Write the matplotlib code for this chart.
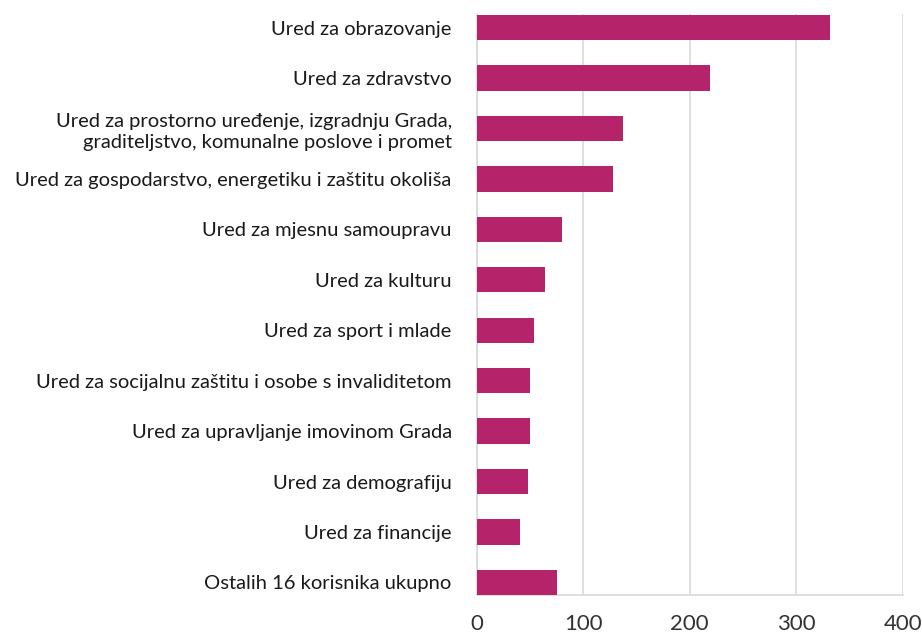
import matplotlib.pyplot as plt
import numpy as np

plt.rcParams['font.family'] = ['Lato', 'DejaVu Sans']

# data (top to bottom)
labels = ["Ured za obrazovanje",
          "Ured za zdravstvo",
          "Ured za prostorno uređenje, izgradnju Grada,\ngraditeljstvo, komunalne poslove i promet",
          "Ured za gospodarstvo, energetiku i zaštitu okoliša",
          "Ured za mjesnu samoupravu",
          "Ured za kulturu",
          "Ured za sport i mlade",
          "Ured za socijalnu zaštitu i osobe s invaliditetom",
          "Ured za upravljanje imovinom Grada",
          "Ured za demografiju",
          "Ured za financije",
          "Ostalih 16 korisnika ukupno"]
values = [332, 219, 137, 128, 80, 64, 54, 50, 50, 48, 41, 75]
xticks = [0, 100, 200, 300, 400]

bar_colour = '#b5246a'
grid_colour = '#d9d9d9'

fig = plt.figure(figsize=(9.22, 6.35), dpi=100, facecolor='w')
ax = fig.add_axes([0.517, 0.063, 0.462, 0.915])

y = np.arange(len(labels))
ax.barh(y, values, height=0.5, color=bar_colour, zorder=3)
ax.set_ylim(len(labels) - 0.75, -0.27)
ax.set_xlim(0, 400)

ax.set_yticks(y)
ax.set_yticklabels(labels, fontsize=14.5, color='#1a1a1a', linespacing=1.3)
ax.set_xticks(xticks)
ax.set_xticklabels([str(t) for t in xticks], fontsize=16, color='#333333')
ax.tick_params(axis='y', length=0, pad=18)
ax.tick_params(axis='x', length=0, pad=13.5)

ax.grid(axis='x', color=grid_colour, linewidth=1.2, zorder=0)
for s in ['top', 'right']:
    ax.spines[s].set_visible(False)
for s in ['left', 'bottom']:
    ax.spines[s].set_color(grid_colour)
    ax.spines[s].set_linewidth(1.2)

fig.savefig('out.png', dpi=100)
